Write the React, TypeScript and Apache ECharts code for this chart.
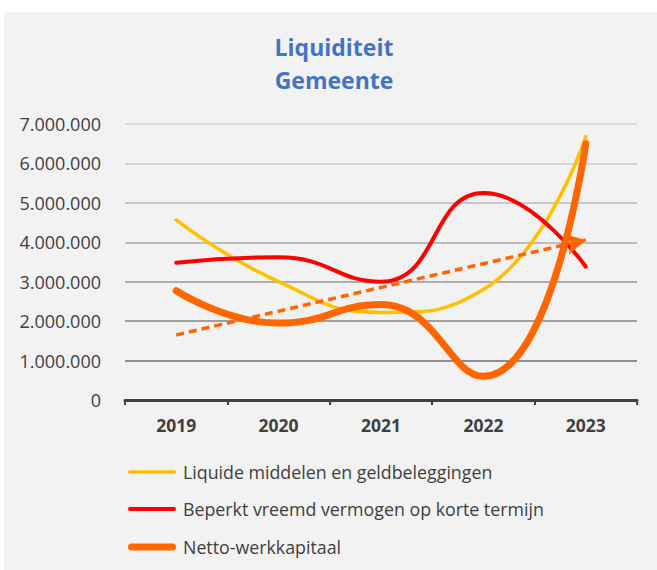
import React, { useEffect, useRef } from 'react';
import * as echarts from 'echarts';

const years = ['2019', '2020', '2021', '2022', '2023'];
const liquide = [4570000, 3000000, 2220000, 2800000, 6680000];
const beperkt = [3480000, 3620000, 3000000, 5250000, 3380000];
const netto = [2770000, 1950000, 2420000, 600000, 6500000];
// linear trend line of Netto-werkkapitaal, endpoints
const trendStart = 1650000;
const trendEnd = 4060000;

const seriesNames = [
  'Liquide middelen en geldbeleggingen',
  'Beperkt vreemd vermogen op korte termijn',
  'Netto-werkkapitaal',
];
const seriesColors = ['#FFC000', '#FF0000', '#FF6600'];
const seriesWidths = [3.5, 4, 7];

const FONT = 'Open Sans';
const fmt = (v: number) => String(v).replace(/\B(?=(\d{3})+(?!\d))/g, '.');

const capsule = (w: number, h: number) => {
  const r = h / 2;
  return `path://M${r},0 L${w - r},0 A${r},${r} 0 0 1 ${w - r},${h} L${r},${h} A${r},${r} 0 0 1 ${r},0 Z`;
};

export default function App() {
  const ref = useRef<HTMLDivElement>(null);
  useEffect(() => {
    const chart = echarts.init(ref.current!, null, { renderer: 'svg' });
    const legendCenters = [460, 497, 535];
    const legends = seriesNames.map((name, i) => ({
      orient: 'vertical',
      left: 124,
      top: legendCenters[i] - 10,
      padding: 0,
      itemWidth: 48,
      itemHeight: seriesWidths[i],
      icon: capsule(48, seriesWidths[i]),
      data: [name],
      selectedMode: false,
      textStyle: { color: '#404040', fontFamily: FONT, fontSize: 17.8, lineHeight: 20, padding: [0, 0, 0, 2] },
    }));
    chart.setOption({
      animation: false,
      backgroundColor: '#f2f2f2',
      title: {
        text: 'Liquiditeit\nGemeente',
        left: 325,
        top: 13,
        textAlign: 'center',
        textStyle: {
          color: '#4472C4',
          fontFamily: FONT,
          fontWeight: 'bold',
          fontSize: 23,
          lineHeight: 33,
        },
      },
      grid: { left: 121, right: 20, top: 112, bottom: 170 },
      legend: legends,
      xAxis: {
        type: 'category',
        data: years,
        boundaryGap: true,
        axisLine: { lineStyle: { color: '#404040', width: 3 } },
        axisTick: { show: true, length: 5, lineStyle: { color: '#404040', width: 2 } },
        axisLabel: { color: '#404040', fontFamily: FONT, fontWeight: 'bold', fontSize: 17.5, margin: 16 },
      },
      yAxis: {
        type: 'value',
        min: 0,
        max: 7000000,
        interval: 1000000,
        axisLine: { show: false },
        axisTick: { show: false },
        axisLabel: { color: '#404040', fontFamily: FONT, fontSize: 18, margin: 24, formatter: fmt },
        splitLine: {
          lineStyle: {
            width: 2,
            color: ['#404040', '#8e8e8e', '#a0a0a0', '#adadad', '#bcbcbc', '#c8c8c8', '#d4d4d4', '#dcdcdc'],
          },
        },
      },
      series: [
        {
          name: seriesNames[0],
          type: 'line',
          data: liquide,
          smooth: 0.5,
          symbol: 'none',
          color: seriesColors[0],
          lineStyle: { color: seriesColors[0], width: seriesWidths[0], cap: 'round' },
          emphasis: { disabled: true },
        },
        {
          name: seriesNames[1],
          type: 'line',
          data: beperkt,
          smooth: 0.5,
          symbol: 'none',
          color: seriesColors[1],
          lineStyle: { color: seriesColors[1], width: seriesWidths[1], cap: 'round' },
          emphasis: { disabled: true },
        },
        {
          name: seriesNames[2],
          type: 'line',
          data: netto,
          smooth: 0.5,
          symbol: 'none',
          color: seriesColors[2],
          lineStyle: { color: seriesColors[2], width: seriesWidths[2], cap: 'round' },
          emphasis: { disabled: true },
          markLine: {
            silent: true,
            symbol: ['none', 'arrow'],
            symbolSize: [16, 20],
            label: { show: false },
            lineStyle: { color: seriesColors[2], type: [8, 5], width: 3.5 },
            emphasis: { disabled: true },
            data: [[{ coord: [years[0], trendStart] }, { coord: [years[4], trendEnd] }]],
          },
        },
      ],
    });
    return () => chart.dispose();
  }, []);
  return (
    <div style={{ position: 'fixed', left: 0, top: 0, width: 657, height: 570, background: '#fff' }}>
      <div ref={ref} style={{ position: 'absolute', left: 4, top: 12, width: 653, height: 558 }} />
    </div>
  );
}
